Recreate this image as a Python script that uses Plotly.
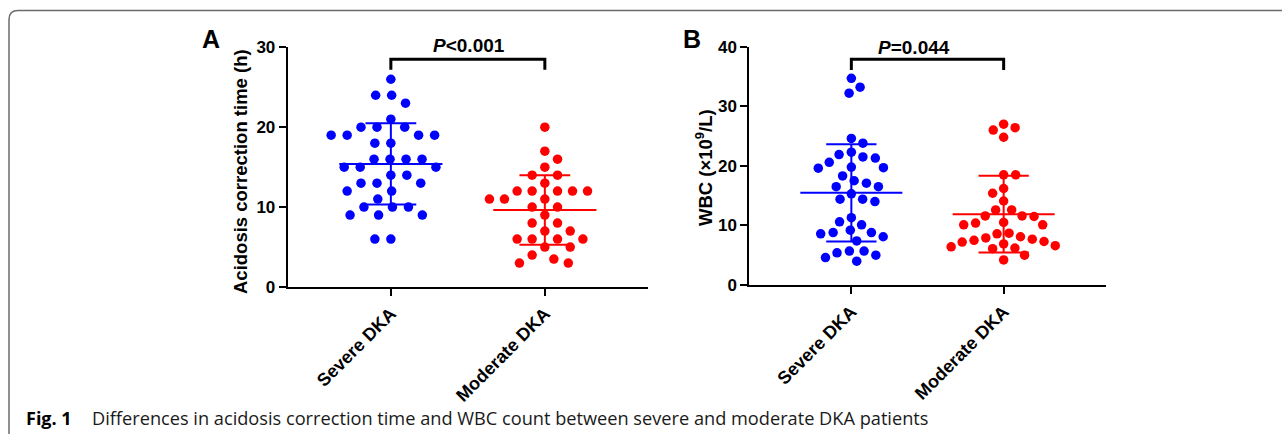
import math
import numpy as np
import plotly.graph_objects as go

W, H = 1282, 434

# ---------------- data ----------------
categories = ["Severe DKA", "Moderate DKA"]

acid_severe = [26, 24, 24, 23, 21, 20, 20, 20, 19, 19, 19, 19, 18, 18, 16, 16, 16, 16,
               15, 15, 15, 14, 14, 13, 13, 13, 12, 12, 11, 10, 10, 10, 9, 9, 9, 6, 6]
acid_moderate = [20, 17, 16, 15, 14, 14, 13, 12, 12, 12, 12, 12, 11, 11, 11, 10, 10, 9,
                 8, 8, 7, 7, 6, 6, 6, 6, 5, 5, 4, 3.5, 3, 3]

wbc_severe = [34.7, 33.2, 32.2, 24.6, 23.8, 22.3, 21.9, 21.5, 21.3, 20.6, 19.8, 19.7, 19.6,
              18.3, 17.5, 17.1, 16.5, 16.5, 15.3, 14.4, 14.4, 14.0, 11.3, 10.6, 10.1, 9.2,
              8.8, 8.8, 8.6, 8.1, 7.4, 5.7, 5.7, 5.4, 5.0, 4.6, 4.0]
wbc_moderate = [27.0, 26.4, 26.0, 24.8, 18.5, 18.5, 16.2, 15.4, 14.1, 12.6, 12.6, 11.6, 11.6,
                11.5, 10.5, 10.4, 10.1, 10.1, 8.7, 8.6, 8.1, 7.9, 7.7, 7.5, 7.3, 7.2, 6.9,
                6.6, 6.4, 6.2, 6.1, 5.0, 4.2]

yticks_a = [0, 10, 20, 30]
yticks_b = [0, 10, 20, 30, 40]
p_text_a = "<i>P</i>&lt;0.001"
p_text_b = "<i>P</i>=0.044"
ytitle_a = "Acidosis correction time (h)"
ytitle_b = "WBC (×10<sup>9</sup>/L)"
caption_bold = "Fig. 1"
caption_text = "Differences in acidosis correction time and WBC count between severe and moderate DKA patients"

BLUE = "#0000FF"
RED = "#FF0000"
FONT = "Liberation Sans, Arial, sans-serif"
CAP_FONT = "Open Sans, Lato, sans-serif"

# ---------------- layout geometry (pixels) ----------------
def pxx(x):
    return x / W

def pxy(y):
    return 1 - y / H

XR = [-0.67, 1.67]
A_dom_x = [287.7, 648.0]
A_dom_y = [287.0, 47.3]
B_dom_x = [749.3, 1105.7]
B_dom_y = [285.0, 46.7]
A_yr = [0, 30]
B_yr = [0, 40]


def swarm(vals, px_per_unit_y, d):
    """Simple beeswarm: returns x offsets in pixels."""
    n = len(vals)
    order = sorted(range(n), key=lambda i: -vals[i])
    placed = []
    offs = [0.0] * n
    flip = 1
    for i in order:
        y = vals[i] * px_per_unit_y
        cands = [0.0]
        for (xj, yj) in placed:
            dy = abs(y - yj)
            if dy < d:
                dx = math.sqrt(d * d - dy * dy)
                cands += [xj + dx, xj - dx]
        cands.sort(key=lambda c: (round(abs(c), 3), -flip * c))
        chosen = 0.0
        for c in cands:
            if all((c - xj) ** 2 + (y - yj) ** 2 >= d * d - 1e-6 for xj, yj in placed):
                chosen = c
                break
        if chosen != 0:
            flip = -flip
        placed.append((chosen, y))
        offs[i] = chosen
    return offs


fig = go.Figure()


def add_panel(xa, ya, dom_x, dom_y, yr, groups, colors, dists):
    px_per_cat = (dom_x[1] - dom_x[0]) / (XR[1] - XR[0])
    px_per_unit = (dom_y[0] - dom_y[1]) / (yr[1] - yr[0])
    for gi, (vals, col, d) in enumerate(zip(groups, colors, dists)):
        offs = swarm(vals, px_per_unit, d)
        xs = [gi + o / px_per_cat for o in offs]
        fig.add_trace(go.Scatter(x=xs, y=vals, mode="markers", xaxis=xa, yaxis=ya,
                                 marker=dict(color=col, size=9.5, line=dict(width=0)),
                                 showlegend=False, hoverinfo="y"))
        m = float(np.mean(vals))
        s = float(np.std(vals, ddof=1))
        hw_m, hw_c = 0.335, 0.165
        lx = [gi - hw_m, gi + hw_m, None, gi - hw_c, gi + hw_c, None,
              gi - hw_c, gi + hw_c, None, gi, gi]
        ly = [m, m, None, m + s, m + s, None, m - s, m - s, None, m - s, m + s]
        fig.add_trace(go.Scatter(x=lx, y=ly, mode="lines", xaxis=xa, yaxis=ya,
                                 line=dict(color=col, width=2), showlegend=False,
                                 hoverinfo="skip"))


add_panel("x", "y", A_dom_x, A_dom_y, A_yr, [acid_severe, acid_moderate], [BLUE, RED], [16.0, 15.0])
add_panel("x2", "y2", B_dom_x, B_dom_y, B_yr, [wbc_severe, wbc_moderate], [BLUE, RED], [12.5, 12.0])

tickfont = dict(family=FONT, size=17, color="black", weight="bold")
xtickfont = dict(family=FONT, size=18, color="black", weight="bold")

axis_common = dict(showline=True, linecolor="black", linewidth=2, ticks="outside",
                   tickcolor="black", tickwidth=2, ticklen=7, showgrid=False,
                   zeroline=False, mirror=False, automargin=False)

fig.update_layout(
    width=W, height=H, autosize=False,
    margin=dict(l=0, r=0, t=0, b=0, pad=0, autoexpand=False),
    paper_bgcolor="white", plot_bgcolor="white",
    xaxis=dict(domain=[pxx(A_dom_x[0]), pxx(A_dom_x[1])], range=XR, tickvals=[0, 1],
               ticktext=categories, tickangle=-45, tickfont=xtickfont, anchor="y", **axis_common),
    yaxis=dict(domain=[pxy(A_dom_y[0]), pxy(A_dom_y[1])], range=A_yr, tickvals=yticks_a,
               tickfont=tickfont, anchor="x", **axis_common),
    xaxis2=dict(domain=[pxx(B_dom_x[0]), pxx(B_dom_x[1])], range=XR, tickvals=[0, 1],
                ticktext=categories, tickangle=-45, tickfont=xtickfont, anchor="y2", **axis_common),
    yaxis2=dict(domain=[pxy(B_dom_y[0]), pxy(B_dom_y[1])], range=B_yr, tickvals=yticks_b,
                tickfont=tickfont, anchor="x2", **axis_common),
)

# significance brackets
for xa, ya, ytop, yleg in [("x", "y", 28.5, 27.2), ("x2", "y2", 37.9, 36.1)]:
    fig.add_shape(type="path", xref=xa, yref=ya,
                  path=f"M 0,{yleg} L 0,{ytop} L 1,{ytop} L 1,{yleg}",
                  line=dict(color="black", width=3))

ann_font = dict(family=FONT, size=19, color="black", weight="bold")
fig.add_annotation(x=pxx(469), y=pxy(45.5), xref="paper", yref="paper", text=p_text_a,
                   showarrow=False, font=ann_font, xanchor="center", yanchor="middle")
fig.add_annotation(x=pxx(914), y=pxy(47.5), xref="paper", yref="paper", text=p_text_b,
                   showarrow=False, font=ann_font, xanchor="center", yanchor="middle")

# axis titles
fig.add_annotation(x=pxx(240), y=pxy(172), xref="paper", yref="paper", text=ytitle_a,
                   textangle=-90, showarrow=False, xanchor="center", yanchor="middle",
                   font=dict(family=FONT, size=18.5, color="black", weight="bold"))
fig.add_annotation(x=pxx(704), y=pxy(168), xref="paper", yref="paper", text=ytitle_b,
                   textangle=-90, showarrow=False, xanchor="center", yanchor="middle",
                   font=dict(family=FONT, size=18.5, color="black", weight="bold"))

# panel letters
for letter, lx in [("A", 211), ("B", 692)]:
    fig.add_annotation(x=pxx(lx), y=pxy(39), xref="paper", yref="paper", text=letter,
                       showarrow=False, xanchor="center", yanchor="middle",
                       font=dict(family=FONT, size=25, color="black", weight="bold"))

# caption
fig.add_annotation(x=pxx(24), y=pxy(418), xref="paper", yref="paper", text=caption_bold,
                   showarrow=False, xanchor="left", yanchor="middle",
                   font=dict(family=CAP_FONT, size=18, color="black", weight="bold"))
fig.add_annotation(x=pxx(90), y=pxy(418), xref="paper", yref="paper", text=caption_text,
                   showarrow=False, xanchor="left", yanchor="middle",
                   font=dict(family=CAP_FONT, size=18.2, color="#1a1a1a"))

# frame
fig.add_shape(type="path", xref="paper", yref="paper",
              path=(f"M {pxx(1300)},{pxy(10.5)} L {pxx(18)},{pxy(10.5)} "
                    f"Q {pxx(9)},{pxy(10.5)} {pxx(9)},{pxy(19.5)} L {pxx(9)},{pxy(450)}"),
              line=dict(color="#6b6b6b", width=1.5))

fig.write_html("out.html", config={"displayModeBar": False},
               post_script="document.body.style.margin='0';document.body.style.overflow='hidden';")
